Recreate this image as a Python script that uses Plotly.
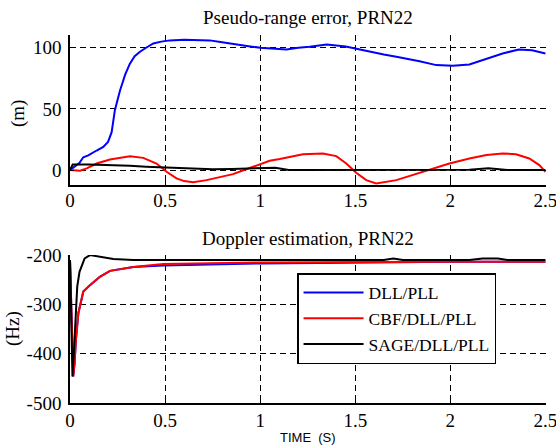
import plotly.graph_objects as go

# ---------------- data ----------------
# Top: pseudo-range error (m)
t_dll_pr = [0, 0.035, 0.05, 0.07, 0.096, 0.14, 0.175, 0.2, 0.219, 0.236, 0.263, 0.29, 0.315,
            0.34, 0.368, 0.4, 0.438, 0.48, 0.525, 0.6, 0.735, 0.8, 0.857, 0.93, 1.0, 1.05,
            1.1, 1.138, 1.2, 1.26, 1.35, 1.40, 1.45, 1.5, 1.576, 1.65, 1.716, 1.78, 1.838,
            1.926, 2.013, 2.1, 2.19, 2.275, 2.36, 2.43, 2.5]
dll_pr = [0, 4, 6, 10.5, 12, 16, 19, 23, 31, 49, 65, 78, 87,
          93, 96.7, 100, 103.5, 105, 106, 106.5, 106, 104.5, 103, 101.5, 100, 99.4,
          99, 98.5, 100, 100.8, 102.7, 102, 101, 99.4, 96.7, 94.5, 92.6, 91, 89,
          85.8, 85.2, 86.3, 91, 95.3, 98.6, 98, 95.3]

t_cbf_pr = [0, 0.053, 0.088, 0.14, 0.21, 0.26, 0.315, 0.385, 0.455, 0.508, 0.56, 0.6, 0.648,
            0.718, 0.79, 0.857, 0.963, 1.05, 1.103, 1.138, 1.225, 1.33, 1.40, 1.453, 1.505,
            1.558, 1.61, 1.716, 1.80, 1.89, 1.995, 2.1, 2.19, 2.275, 2.345, 2.415, 2.468, 2.5]
cbf_pr = [0, -0.5, 1.4, 5.4, 8.7, 9.8, 11.4, 10, 5.4, -1.4, -6.8, -9, -10,
          -8.2, -5.8, -3.3, 2.7, 7.6, 9, 10.3, 13, 13.6, 11.4, 5.4, -2.2,
          -8.2, -10.9, -8.2, -4.1, 0.5, 5.4, 9.5, 12.3, 13.6, 13, 9.5, 4.1, -1.4]

t_sage_pr = [0, 0.014, 0.1, 0.17, 0.25, 0.315, 0.4, 0.48, 0.55, 0.65, 0.75, 0.85, 1.0, 1.08,
             1.15, 1.4, 1.6, 1.8, 2.0, 2.1, 2.2, 2.25, 2.3, 2.5]
sage_pr = [0, 4.6, 4.6, 4.4, 4.0, 3.5, 2.8, 2.2, 1.5, 1.0, 0.6, 0.8, 1.5, 2.0,
           0, 0, 0, 0, 0, 0.3, 1.5, 0.5, 0, 0]

# Bottom: Doppler estimation (Hz)
t_dll_d = [0, 0.008, 0.017, 0.024, 0.031, 0.044, 0.07, 0.105, 0.157, 0.21, 0.333, 0.49,
           0.7, 1.0, 1.3, 1.77, 2.0, 2.5]
dll_d = [-210, -330, -446, -420, -372, -318, -274, -261, -244, -232, -224, -221,
         -219, -217, -216, -214, -213.5, -213.5]

t_cbf_d = [0, 0.008, 0.017, 0.024, 0.031, 0.044, 0.07, 0.105, 0.157, 0.21, 0.333, 0.49,
           0.7, 1.0, 1.3, 1.77, 2.0, 2.5]
cbf_d = [-210, -330, -446, -420, -372, -318, -274, -261, -244, -232, -224, -218,
         -216.5, -215, -214.5, -213.5, -213.5, -213.5]

t_sage_d = [0, 0.006, 0.013, 0.02, 0.03, 0.038, 0.05, 0.077, 0.105, 0.157, 0.228, 0.333,
            1.0, 1.65, 1.7, 1.75, 2.1, 2.17, 2.25, 2.3, 2.5]
sage_d = [-210, -330, -446, -400, -320, -264, -234, -207, -200, -203, -208, -210,
          -210, -210, -207, -210, -210, -207, -207, -210, -210]

x_ticks = [0, 0.5, 1, 1.5, 2, 2.5]
x_labels = ["0", "0.5", "1", "1.5", "2", "2.5"]
y1_ticks = [0, 50, 100]
y1_labels = ["0", "50", "100"]
y2_ticks = [-500, -400, -300, -200]
y2_labels = ["-500", "-400", "-300", "-200"]

names = ["DLL/PLL", "CBF/DLL/PLL", "SAGE/DLL/PLL"]
colors = ["#0000FF", "#FF0000", "#000000"]

# ---------------- figure ----------------
SERIF = "Liberation Serif, Times New Roman, serif"
fig = go.Figure()

top = [(t_dll_pr, dll_pr), (t_cbf_pr, cbf_pr), (t_sage_pr, sage_pr)]
bot = [(t_dll_d, dll_d), (t_cbf_d, cbf_d), (t_sage_d, sage_d)]
for (tx, ty), nm, c in zip(top, names, colors):
    fig.add_trace(go.Scatter(x=tx, y=ty, mode="lines", line=dict(color=c, width=2),
                             name=nm, showlegend=False, xaxis="x", yaxis="y"))
for (tx, ty), nm, c in zip(bot, names, colors):
    fig.add_trace(go.Scatter(x=tx, y=ty, mode="lines", line=dict(color=c, width=2),
                             name=nm, showlegend=True, xaxis="x2", yaxis="y2"))

axis_common = dict(showline=True, linecolor="black", linewidth=1.5, ticks="inside",
                   ticklen=4, tickcolor="black", showgrid=True, gridcolor="black",
                   gridwidth=1, griddash="6px,4px", zeroline=False, mirror=False,
                   ticklabeloverflow="allow",
                   tickfont=dict(family=SERIF, size=19, color="black"))

XR = [0, 2.503]
fig.update_layout(
    width=556, height=446,
    margin=dict(l=70, r=10, t=35, b=43, autoexpand=False),
    paper_bgcolor="white", plot_bgcolor="white",
    xaxis=dict(domain=[0, 1], anchor="y", range=XR, tickvals=x_ticks,
               ticktext=x_labels, ticklabelstandoff=-3, **axis_common),
    yaxis=dict(domain=[0.592, 1], anchor="x", range=[-12.3, 110.4], tickvals=y1_ticks,
               ticktext=y1_labels, ticklabelstandoff=3, **axis_common),
    xaxis2=dict(domain=[0, 1], anchor="y2", range=XR, tickvals=x_ticks,
                ticktext=x_labels, ticklabelstandoff=-1, **axis_common),
    yaxis2=dict(domain=[0, 0.402], anchor="x2", range=[-500, -200], tickvals=y2_ticks,
                ticktext=y2_labels, ticklabelstandoff=3, **axis_common),
    legend=dict(x=0.477, y=0.353, xanchor="left", yanchor="top", bgcolor="white",
                bordercolor="black", borderwidth=1.5,
                font=dict(family=SERIF, size=17.5, color="black"),
                itemwidth=60),
    showlegend=True,
)

fig.add_annotation(text="Pseudo-range error, PRN22", xref="paper", yref="paper",
                   x=0.5, y=1.0, yshift=18, showarrow=False, yanchor="middle",
                   xanchor="center",
                   font=dict(family=SERIF, size=19, color="black"))
fig.add_annotation(text="Doppler estimation, PRN22", xref="paper", yref="paper",
                   x=0.5, y=0.402, yshift=17, showarrow=False, yanchor="middle",
                   xanchor="center",
                   font=dict(family=SERIF, size=19, color="black"))
fig.add_annotation(text="(m)", xref="paper", yref="paper", x=0, xshift=-52,
                   y=0.796, yshift=-4, textangle=-90, showarrow=False,
                   xanchor="center", yanchor="middle",
                   font=dict(family=SERIF, size=19, color="black"))
fig.add_annotation(text="(Hz)", xref="paper", yref="paper", x=0, xshift=-57,
                   y=0.201, textangle=-90, showarrow=False,
                   xanchor="center", yanchor="middle",
                   font=dict(family=SERIF, size=19, color="black"))
fig.add_annotation(text="TIME  (S)", xref="paper", yref="paper", x=0.5, y=0,
                   yshift=-34, showarrow=False, xanchor="center", yanchor="middle",
                   font=dict(family="Liberation Sans, Arial, sans-serif", size=13,
                             color="black"))

fig.write_html("out.html", config={"displayModeBar": False},
               post_script="document.body.style.margin='0';document.body.style.overflow='hidden';")
